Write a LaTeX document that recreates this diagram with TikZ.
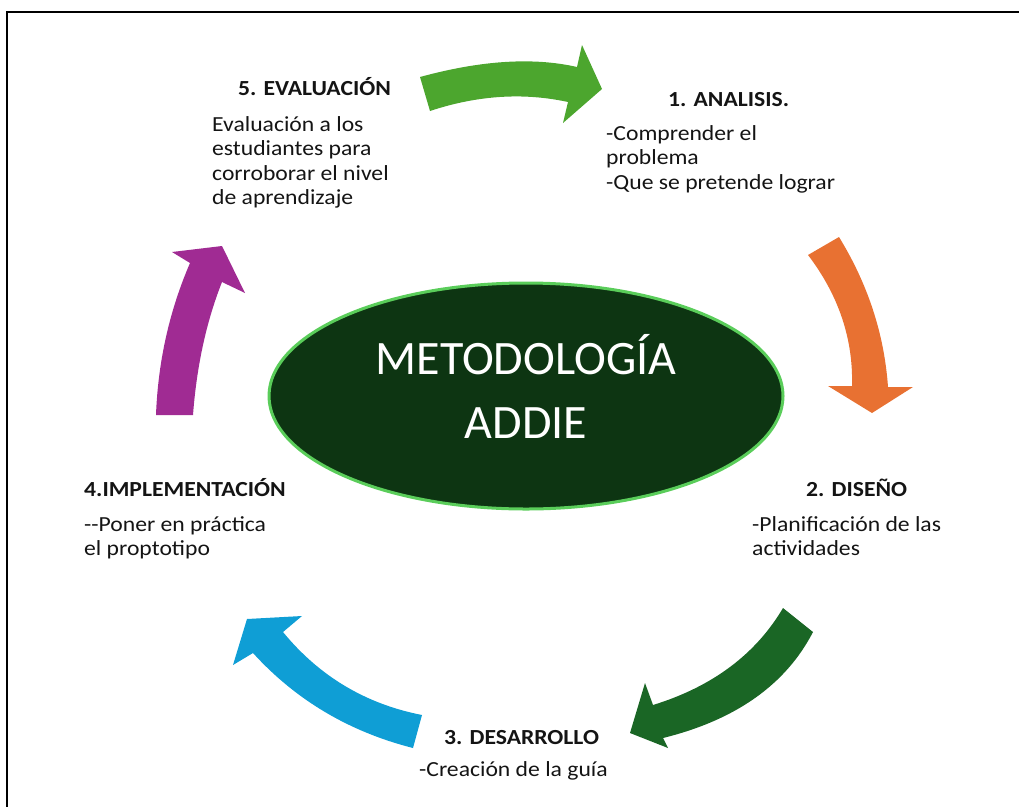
\documentclass[tikz,border=0pt]{standalone}
\usepackage{fontspec}
\setmainfont{Carlito}[FakeStretch=1.1]
\newfontfamily\titlefont{Carlito}
\usetikzlibrary{shapes.geometric}
\definecolor{cgreen}{RGB}{76,166,46}
\definecolor{corange}{RGB}{232,113,50}
\definecolor{cdgreen}{RGB}{26,102,37}
\definecolor{cblue}{RGB}{15,158,213}
\definecolor{cpurple}{RGB}{160,43,147}
\definecolor{ellfill}{RGB}{13,53,18}
\definecolor{ellline}{RGB}{90,205,90}
\definecolor{txt}{RGB}{20,20,20}
\tikzset{
  head/.style={anchor=base west, inner sep=0pt, text=txt, font=\fontsize{21.5}{24.5}\selectfont\bfseries},
  body/.style={anchor=base west, inner sep=0pt, text=txt, font=\fontsize{21.5}{24.5}\selectfont},
  titletext/.style={anchor=base, inner sep=0pt, text=white, font=\titlefont\fontsize{48}{64}\selectfont},
}
\newcommand{\lines}[1]{\begin{tabular}[t]{@{}l@{}}#1\end{tabular}}
\begin{document}
\begin{tikzpicture}[x=1pt,y=-1pt]
\useasboundingbox (0,0) rectangle (1019,806);
\draw[line width=2pt] (7,815) -- (7,12) -- (1030,12);

% central ellipse
\node[ellipse, draw=ellline, line width=3pt, fill=ellfill, minimum width=514pt, minimum height=226pt, inner sep=0pt] (center) at (526,396) {};
\node[titletext] (title1) at (526,374) {METODOLOGÍA};
\node[titletext] (title2) at (526,438) {ADDIE};

% arrows
\fill[cgreen] (420,77) .. controls (481,60.3) and (533.3,57) .. (577,67) -- (582,45) -- (602,89) -- (563,123) -- (568,102) .. controls (523.3,92.3) and (477.3,95.3) .. (430,111) -- cycle;
\fill[corange] (808,255) -- (839,237) .. controls (868,284.3) and (884.3,334.3) .. (888,387) -- (913,387) -- (872,413) -- (828,386) -- (852,386) .. controls (853.3,339) and (838.7,295.3) .. (808,255) -- cycle;
\fill[cdgreen] (783,608) -- (813,632) .. controls (785.7,684.7) and (735.7,720) .. (663,738) -- (668,748) -- (630,733) -- (645,683) -- (653,705) .. controls (712.3,686.7) and (755.7,654.3) .. (783,608) -- cycle;
\fill[cblue] (422,715) -- (413,748) .. controls (349,731.7) and (295.7,700) .. (253,653) -- (233,665) -- (247,619) -- (302,616) -- (283,632) .. controls (319.3,676.3) and (365.7,704) .. (422,715) -- cycle;
\fill[cpurple] (156,415) .. controls (158,361.7) and (169.3,311) .. (190,263) -- (172,252) -- (222,246) -- (245,293) -- (222,282) .. controls (206.3,321.7) and (196.7,366) .. (193,415) -- cycle;

% labels
\node[head] (h5) at (238,95) {5. EVALUACIÓN};
\node[body] (b5) at (212,131) {\lines{Evaluación a los\\estudiantes para\\corroborar el nivel\\de aprendizaje}};
\node[head] (h1) at (668,106) {1. ANALISIS.};
\node[body] (b1) at (606,140) {\lines{-Comprender el\\problema\\-Que se pretende lograr}};
\node[head] (h2) at (806,496) {2. DISEÑO};
\node[body] (b2) at (752,531) {\lines{-Planificación de las\\actividades}};
\node[head] (h3) at (444,744) {3. DESARROLLO};
\node[body] (b3) at (419,776) {-Creación de la guía};
\node[head] (h4) at (84,496) {4.IMPLEMENTACIÓN};
\node[body] (b4) at (84,531) {\lines{-{}-Poner en práctica\\el proptotipo}};
\end{tikzpicture}
\end{document}
